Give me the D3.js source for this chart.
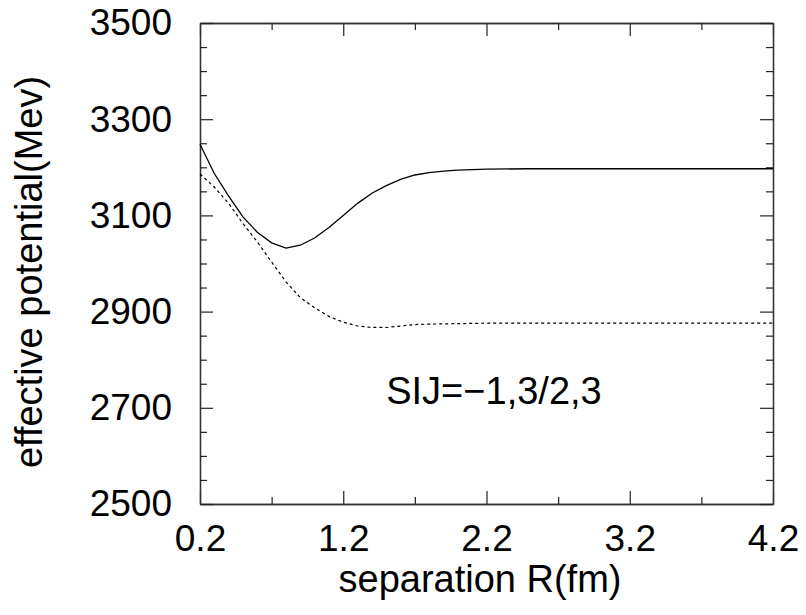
<!DOCTYPE html>
<html>
<head>
<meta charset="utf-8">
<script src="https://cdn.jsdelivr.net/npm/d3@7"></script>
<style>
  body { margin: 0; background: #fff; }
  svg { display: block; }
  text { font-family: "Liberation Sans", Arial, Helvetica, sans-serif; }
</style>
</head>
<body>
<svg id="chart" width="806" height="615"></svg>
<script>
// separation R (fm) and effective potential (MeV)
var rSolid = [0.2, 0.3, 0.4, 0.5, 0.6, 0.7, 0.8, 0.9, 1.0, 1.1, 1.2, 1.3, 1.4, 1.5, 1.6, 1.7, 1.8, 1.9, 2.0, 2.2, 2.5, 3.0, 3.5, 4.2];
var vSolid = [3248, 3187, 3140, 3097, 3065, 3043, 3032, 3038, 3053, 3075, 3100, 3125, 3146, 3162, 3175, 3184, 3189, 3192, 3194, 3196, 3197, 3197, 3197, 3197];

var rDash = [0.2, 0.3, 0.4, 0.5, 0.6, 0.7, 0.8, 0.9, 1.0, 1.1, 1.2, 1.3, 1.4, 1.5, 1.6, 1.7, 1.8, 2.0, 2.2, 2.5, 3.0, 3.5, 4.2];
var vDash = [3186, 3159, 3125, 3083, 3045, 3003, 2962, 2929, 2908, 2890, 2878, 2870, 2867, 2867, 2870, 2873, 2874, 2875, 2876, 2876, 2876, 2876, 2876];

var xTicks = [0.2, 1.2, 2.2, 3.2, 4.2];
var xMinor = [0.7, 1.7, 2.7, 3.7];
var yTicks = [2500, 2700, 2900, 3100, 3300, 3500];
var yMinor = [2550, 2600, 2650, 2750, 2800, 2850, 2950, 3000, 3050, 3150, 3200, 3250, 3350, 3400, 3450];

var label = "SIJ=\u22121,3/2,3";

const margin = {top: 23, right: 33, bottom: 111, left: 200};
const width = 806 - margin.left - margin.right;
const height = 615 - margin.top - margin.bottom;

var svg = d3.select("#chart");
var g = svg.append("g").attr("transform", "translate(" + margin.left + "," + margin.top + ")");

var x = d3.scaleLinear().domain([0.2, 4.2]).range([0, width]);
var y = d3.scaleLinear().domain([2500, 3500]).range([height, 0]);

var fs = "37px";
var fsTitle = "38px";

// bottom axis with labels
g.append("g").attr("transform", "translate(0," + height + ")")
  .call(d3.axisBottom(x).tickValues(xTicks).tickSize(-13).tickSizeOuter(0).tickPadding(21).tickFormat(d3.format(".1f")));
g.append("g").attr("transform", "translate(0," + height + ")")
  .call(d3.axisBottom(x).tickValues(xMinor).tickSize(-7).tickSizeOuter(0).tickFormat(""));
// top axis
g.append("g")
  .call(d3.axisTop(x).tickValues(xTicks).tickSize(-13).tickSizeOuter(0).tickFormat(""));
g.append("g")
  .call(d3.axisTop(x).tickValues(xMinor).tickSize(-7).tickSizeOuter(0).tickFormat(""));

// left axis with labels
g.append("g")
  .call(d3.axisLeft(y).tickValues(yTicks).tickSize(-13).tickSizeOuter(0).tickPadding(28).tickFormat(d3.format("d")));
g.append("g")
  .call(d3.axisLeft(y).tickValues(yMinor).tickSize(-7).tickSizeOuter(0).tickFormat(""));
// right axis
g.append("g").attr("transform", "translate(" + width + ",0)")
  .call(d3.axisRight(y).tickValues(yTicks).tickSize(-13).tickSizeOuter(0).tickFormat(""));
g.append("g").attr("transform", "translate(" + width + ",0)")
  .call(d3.axisRight(y).tickValues(yMinor).tickSize(-7).tickSizeOuter(0).tickFormat(""));

g.selectAll(".tick text").attr("font-size", fs).attr("font-family", "Liberation Sans, Arial, sans-serif").attr("fill", "#000");
g.selectAll(".domain").attr("stroke", "#333").attr("stroke-width", 1.3);
g.selectAll(".tick line").attr("stroke", "#222").attr("stroke-width", 1.2);

// curves
var line = d3.line()
  .x(function(d){ return x(d[0]); })
  .y(function(d){ return y(d[1]); });

g.append("path")
  .datum(rSolid.map(function(r, i){ return [r, vSolid[i]]; }))
  .attr("d", line)
  .attr("fill", "none")
  .attr("stroke", "#000")
  .attr("stroke-width", 1.3);

g.append("path")
  .datum(rDash.map(function(r, i){ return [r, vDash[i]]; }))
  .attr("d", line)
  .attr("fill", "none")
  .attr("stroke", "#000")
  .attr("stroke-width", 1.2)
  .attr("stroke-dasharray", "3,3");

// annotation
g.append("text")
  .attr("x", x(1.5))
  .attr("y", y(2708))
  .attr("font-size", fsTitle)
  .attr("fill", "#000")
  .text(label);

// axis titles
svg.append("text")
  .attr("x", 480)
  .attr("y", 592)
  .attr("font-size", fsTitle)
  .style("text-anchor", "middle")
  .attr("fill", "#000")
  .text("separation R(fm)");

svg.append("text")
  .attr("transform", "translate(42,272) rotate(-90)")
  .attr("font-size", fsTitle)
  .style("text-anchor", "middle")
  .attr("fill", "#000")
  .text("effective potential(Mev)");
</script>
</body>
</html>
